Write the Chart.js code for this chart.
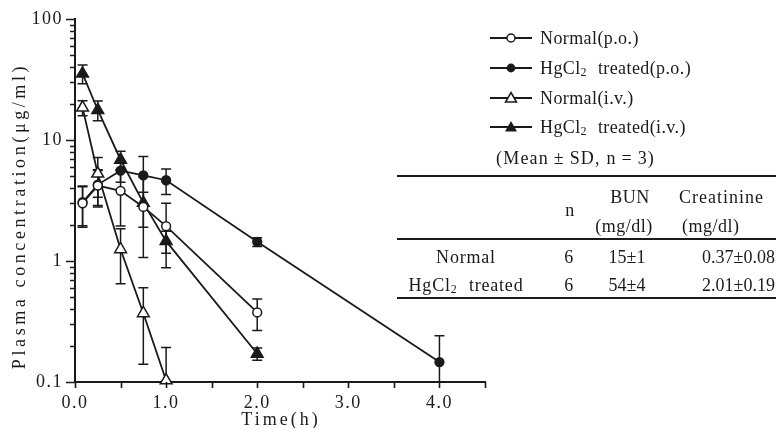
<!DOCTYPE html>
<html>
<head>
<meta charset="utf-8">
<script src="https://cdn.jsdelivr.net/npm/chart.js@4/dist/chart.umd.min.js"></script>
<style>
  html, body { margin:0; padding:0; background:#fff; }
  #wrap { position:relative; width:776px; height:428px; overflow:hidden;
          font-family:"Liberation Serif", "DejaVu Serif", serif; color:#1a1a1a; }
  #chart { position:absolute; left:0; top:0; }
  .t { position:absolute; font-size:18px; line-height:22px; white-space:nowrap; letter-spacing:0.5px; }
  .c { transform:translateX(-50%); }
  .v { letter-spacing:0; }
  .leg { position:absolute; left:490px; height:22px; display:flex; align-items:center; white-space:nowrap; font-size:18px; }
  .leg svg { margin-right:8px; }
  .rule { position:absolute; left:397px; width:379px; background:#1a1a1a; }
  sub { font-size:12px; vertical-align:-2px; line-height:0; }
  .ws { word-spacing:6px; }
</style>
</head>
<body>
<div id="wrap">
  <canvas id="chart" width="776" height="428"></canvas>
  <div id="legend"></div>
  <div id="table"></div>
</div>
<script>
const INK = '#1a1a1a';

// data (time in h, concentration in ug/ml)
const times      = [0.083, 0.25, 0.5, 0.75, 1.0, 2.0, 4.0];
const normalPo   = [3.0, 4.2, 3.8, 2.8, 1.94, 0.376, null];
const normalPoSd = [1.1, 1.4, 1.85, 0.9, 1.06, 0.11, null];
const hgPo       = [3.06, 4.28, 5.58, 5.1, 4.65, 1.44, 0.146];
const hgPoSd     = [1.1, 1.4, 1.1, 2.2, 1.1, 0.12, 0.095];
const normalIv   = [18.5, 5.27, 1.25, 0.37, 0.103, null, null];
const normalIvSd = [2.6, 1.9, 0.6, 0.23, 0.09, null, null];
const hgIv       = [35.4, 17.7, 6.87, 3.02, 1.46, 0.171, null];
const hgIvSd     = [6.2, 3.3, 1.2, 1.95, 0.3, 0.02, null];

const yMajor      = [0.1, 1, 10, 100];
const yTickLabels = ['0.1', '1', '10', '100'];
const xMajor      = [0, 1, 2, 3, 4];
const xTickLabels = ['0.0', '1.0', '2.0', '3.0', '4.0'];
const xTickMarks  = [0, 0.5, 1, 1.5, 2, 2.5, 3, 3.5, 4, 4.5];

const seriesNames = ['Normal(p.o.)', 'HgCl2 treated(p.o.)', 'Normal(i.v.)', 'HgCl2 treated(i.v.)'];

// table beside the chart
const tableGroups = ['Normal', 'HgCl2 treated'];
const tableN      = ['6', '6'];
const tableBun    = ['15±1', '54±4'];
const tableCre    = ['0.37±0.08', '2.01±0.19'];

const pts = (vals) => times.map((t, i) => ({ x: t, y: vals[i] })).filter(p => p.y != null);

function ds(label, vals, sd, style, open) {
  return {
    label, data: pts(vals), errors: sd.filter(v => v != null),
    showLine: true, borderColor: INK, borderWidth: 1.8,
    pointStyle: style, pointRadius: style === 'triangle' ? 6.8 : 4.4,
    pointBackgroundColor: open ? '#fff' : INK, pointBorderColor: INK, pointBorderWidth: 1.5,
    clip: false,
  };
}

// minor log ticks 0.1 .. 100
const yMinor = [];
[0.1, 1, 10].forEach(d => { for (let k = 1; k <= 9; k++) yMinor.push(+(d * k).toPrecision(3)); });
yMinor.push(100);

const errorBars = {
  id: 'errorBars',
  beforeDatasetsDraw(chart) {
    const { ctx, chartArea: a, scales: { y } } = chart;
    ctx.save();
    ctx.strokeStyle = INK; ctx.lineWidth = 1.5;
    chart.data.datasets.forEach((d, di) => {
      const meta = chart.getDatasetMeta(di);
      meta.data.forEach((el, i) => {
        const m = d.data[i].y, s = d.errors[i];
        if (!s) return;
        const top = y.getPixelForValue(m + s);
        const bot = m - s > 0 ? Math.min(a.bottom, y.getPixelForValue(m - s)) : a.bottom;
        ctx.beginPath();
        ctx.moveTo(el.x, top); ctx.lineTo(el.x, bot);
        ctx.moveTo(el.x - 5, top); ctx.lineTo(el.x + 5, top);
        if (bot < a.bottom) { ctx.moveTo(el.x - 5, bot); ctx.lineTo(el.x + 5, bot); }
        ctx.stroke();
      });
    });
    ctx.restore();
  }
};

const axisDecor = {
  id: 'axisDecor',
  beforeDraw(chart) { chart.ctx.letterSpacing = '1.5px'; },
  afterDraw(chart) {
    const { ctx, chartArea: a, scales: { x, y } } = chart;
    ctx.save();
    ctx.strokeStyle = INK; ctx.lineWidth = 1.6;
    ctx.beginPath();
    yMinor.forEach(v => {
      const py = Math.round(y.getPixelForValue(v)) + 0.5;
      const len = yMajor.includes(v) ? 9 : 5;
      ctx.moveTo(a.left, py); ctx.lineTo(a.left - len, py);
    });
    xTickMarks.forEach(v => {
      const px = Math.round(x.getPixelForValue(v)) + 0.5;
      ctx.moveTo(px, a.bottom); ctx.lineTo(px, a.bottom + 6);
    });
    ctx.stroke();

    ctx.fillStyle = INK;
    ctx.font = '18px "Liberation Serif"';
    ctx.letterSpacing = '3.6px';
    ctx.textAlign = 'center'; ctx.textBaseline = 'middle';
    ctx.save();
    ctx.translate(20, 216); ctx.rotate(-Math.PI / 2);
    ctx.fillText('Plasma concentration(\u03bcg/ml)', 0, 0);
    ctx.restore();
    ctx.letterSpacing = '3px';
    ctx.textBaseline = 'alphabetic';
    ctx.fillText('Time(h)', 281, 425);
    ctx.restore();
  }
};

Chart.defaults.font.family = '"Liberation Serif", serif';
Chart.defaults.font.size = 18;
Chart.defaults.color = INK;

new Chart(document.getElementById('chart'), {
  type: 'scatter',
  data: {
    datasets: [
      ds(seriesNames[0], normalPo, normalPoSd, 'circle', true),
      ds(seriesNames[1], hgPo, hgPoSd, 'circle', false),
      ds(seriesNames[2], normalIv, normalIvSd, 'triangle', true),
      ds(seriesNames[3], hgIv, hgIvSd, 'triangle', false),
    ],
  },
  options: {
    responsive: false,
    animation: false,
    layout: { padding: { left: 0, top: 19, right: 291, bottom: 0 } },
    plugins: { legend: { display: false }, tooltip: { enabled: false } },
    scales: {
      x: {
        type: 'linear', min: 0, max: 4.5,
        afterFit: s => { s.height = 46; },
        afterBuildTicks: s => { s.ticks = xMajor.map(v => ({ value: v })); },
        ticks: { padding: 2, maxRotation: 0, callback: (v) => xTickLabels[xMajor.indexOf(v)] },
        grid: { display: false },
        border: { display: true, color: INK, width: 2 },
      },
      y: {
        type: 'logarithmic', min: 0.1, max: 100,
        afterFit: s => { s.width = 75; },
        afterBuildTicks: s => { s.ticks = yMajor.map(v => ({ value: v })); },
        ticks: { padding: 4, callback: (v) => yTickLabels[yMajor.indexOf(v)] },
        grid: { display: false },
        border: { display: true, color: INK, width: 2 },
      },
    },
  },
  plugins: [errorBars, axisDecor],
});

// legend
const legendRows = [38, 68, 98, 127];
const markerSvg = [
  '<circle cx="21" cy="8" r="4" fill="#fff" stroke="#1a1a1a" stroke-width="1.5"/>',
  '<circle cx="21" cy="8" r="4.4" fill="#1a1a1a"/>',
  '<polygon points="21,2.5 26.5,12 15.5,12" fill="#fff" stroke="#1a1a1a" stroke-width="1.5"/>',
  '<polygon points="21,2 27,12.5 15,12.5" fill="#1a1a1a"/>',
];
const fmtName = n => n.replace('HgCl2 ', 'HgCl<sub>2</sub> ');
document.getElementById('legend').innerHTML = seriesNames.map((n, i) => `
  <div class="leg" style="top:${legendRows[i] - 11}px">
    <svg width="42" height="16"><line x1="0" y1="8" x2="42" y2="8" stroke="#1a1a1a" stroke-width="1.8"/>${markerSvg[i]}</svg>
    <span class="ws" style="letter-spacing:0.4px">${fmtName(n)}</span>
  </div>`).join('') + `
  <div class="t" style="left:496px; top:147px; letter-spacing:1.2px">(Mean&thinsp;±&thinsp;SD, n&thinsp;=&thinsp;3)</div>`;

// table
const rowY = [257, 285];
document.getElementById('table').innerHTML = `
  <div class="rule" style="top:175px; height:2px"></div>
  <div class="rule" style="top:238px; height:1.5px"></div>
  <div class="rule" style="top:297px; height:2px"></div>
  <div class="t c" style="left:570px; top:199px">n</div>
  <div class="t c" style="left:630px; top:186px">BUN</div>
  <div class="t c" style="left:624px; top:215px">(mg/dl)</div>
  <div class="t" style="left:679px; top:186px; letter-spacing:1px">Creatinine</div>
  <div class="t" style="left:682px; top:215px">(mg/dl)</div>
  ${tableGroups.map((g, i) => `
    <div class="t c ws" style="left:466px; top:${rowY[i] - 11}px; letter-spacing:0.8px">${fmtName(g)}</div>
    <div class="t c" style="left:569px; top:${rowY[i] - 11}px">${tableN[i]}</div>
    <div class="t c v" style="left:627px; top:${rowY[i] - 11}px">${tableBun[i]}</div>
    <div class="t v" style="left:702px; top:${rowY[i] - 11}px">${tableCre[i]}</div>`).join('')}
`;
</script>
</body>
</html>
